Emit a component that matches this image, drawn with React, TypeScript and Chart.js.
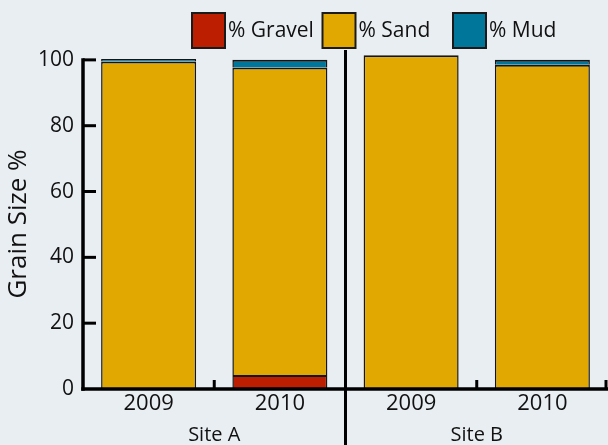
import React, { useEffect, useRef } from "react";
import { Chart, registerables } from "chart.js";
Chart.register(...registerables);

const categories = ["2009", "2010", "2009", "2010"];
const sites = ["Site A", "Site B"];
const gravel = [0.2, 4.25, 0.2, 0.1];
const sand = [99.3, 93.4, 101.2, 98.4];
const mud = [0.8, 2.35, 0, 1.5];
const seriesNames = ["% Gravel", "% Sand", "% Mud"];
const seriesColors = ["#bb1e00", "#e0a800", "#00769a"];
const yTicks = [0, 20, 40, 60, 80, 100];
const yTitle = "Grain Size %";

const FONT = '"Open Sans", "Noto Sans", sans-serif';
const BG = "#e9eef2";
const INK = "#111111";

const decor = {
  id: "decor",
  beforeDraw(chart: any) {
    const { ctx } = chart;
    ctx.save();
    ctx.fillStyle = BG;
    ctx.fillRect(0, 0, chart.width, chart.height);
    ctx.restore();
  },
  afterDatasetsDraw(chart: any) {
    const { ctx, chartArea } = chart;
    const xs = chart.scales.x;
    const ys = chart.scales.y;
    const y0 = ys.getPixelForValue(0);
    const yTop = ys.getPixelForValue(100);
    const n = categories.length;
    const perSite = n / sites.length;
    const step = (xs.right - xs.left) / n;
    const boundary = (i: number) => xs.getPixelForValue(i) + step / 2;

    ctx.save();
    ctx.strokeStyle = "#000";
    ctx.lineCap = "butt";

    // y axis line
    ctx.lineWidth = 3.5;
    ctx.beginPath();
    ctx.moveTo(xs.left, yTop - 1.5);
    ctx.lineTo(xs.left, y0 + 1.75);
    ctx.stroke();

    // y ticks (inward)
    ctx.lineWidth = 3;
    yTicks.forEach((v) => {
      if (v <= 0) return;
      const py = ys.getPixelForValue(v);
      ctx.beginPath();
      ctx.moveTo(xs.left, py);
      ctx.lineTo(xs.left + 13, py);
      ctx.stroke();
    });

    // x axis line
    ctx.lineWidth = 3.5;
    ctx.beginPath();
    ctx.moveTo(xs.left - 1.75, y0);
    ctx.lineTo(chartArea.right, y0);
    ctx.stroke();

    // x ticks within sites and at the right end
    ctx.lineWidth = 3;
    for (let i = 0; i < n; i++) {
      const isSiteEnd = (i + 1) % perSite === 0;
      let bx = boundary(i);
      if (isSiteEnd && i < n - 1) continue;
      if (i === n - 1) bx = Math.min(bx, chart.width) - 2;
      ctx.beginPath();
      ctx.moveTo(bx, y0);
      ctx.lineTo(bx, y0 - 9);
      ctx.stroke();
    }

    // site separators
    for (let s = 1; s < sites.length; s++) {
      const bx = boundary(s * perSite - 1);
      ctx.beginPath();
      ctx.moveTo(bx, chartArea.top);
      ctx.lineTo(bx, chart.height);
      ctx.stroke();
    }

    // site labels
    ctx.fillStyle = INK;
    ctx.font = `20px ${FONT}`;
    ctx.textAlign = "center";
    ctx.textBaseline = "middle";
    sites.forEach((name, s) => {
      const first = xs.getPixelForValue(s * perSite);
      const last = xs.getPixelForValue(s * perSite + perSite - 1);
      ctx.fillText(name, (first + last) / 2, 435);
    });

    // y title
    ctx.save();
    ctx.translate(19, 224);
    ctx.rotate(-Math.PI / 2);
    ctx.font = `26px ${FONT}`;
    ctx.fillText(yTitle, 0, 0);
    ctx.restore();

    // legend
    ctx.textAlign = "left";
    ctx.font = `21px ${FONT}`;
    seriesNames.forEach((name, i) => {
      const lx = 192 + i * 130.5;
      ctx.fillStyle = seriesColors[i];
      ctx.fillRect(lx, 13, 33, 35);
      ctx.lineWidth = 2;
      ctx.strokeStyle = "#1a1a1a";
      ctx.strokeRect(lx, 13, 33, 35);
      ctx.fillStyle = INK;
      ctx.fillText(name, lx + 36, 31);
    });

    ctx.restore();
  },
};

export default function App() {
  const ref = useRef<HTMLCanvasElement | null>(null);
  useEffect(() => {
    if (!ref.current) return;
    const series = [gravel, sand, mud];
    const chart = new Chart(ref.current, {
      type: "bar",
      data: {
        labels: categories,
        datasets: series.map((d, i) => ({
          label: seriesNames[i],
          data: d,
          backgroundColor: seriesColors[i],
          borderColor: "#151515",
          borderWidth: { top: 2, left: 1.5, right: 1.5, bottom: 0 },
          borderSkipped: false,
          barPercentage: 0.724,
          categoryPercentage: 1,
        })),
      },
      options: {
        animation: false,
        responsive: false,
        maintainAspectRatio: false,
        layout: { padding: { top: 50, left: 0, right: 0, bottom: 0 } },
        plugins: { legend: { display: false }, tooltip: { enabled: false } },
        scales: {
          x: {
            stacked: true,
            grid: { display: false, drawTicks: false },
            border: { display: false },
            ticks: { font: { family: FONT, size: 22 }, color: INK, padding: 2, maxRotation: 0 },
            afterFit(s: any) {
              s.height = 56;
            },
          },
          y: {
            stacked: true,
            min: 0,
            max: 103,
            grid: { display: false, drawTicks: false },
            border: { display: false },
            afterBuildTicks(s: any) {
              s.ticks = yTicks.map((v) => ({ value: v }));
            },
            ticks: { font: { family: FONT, size: 21 }, color: INK, padding: 9 },
            afterFit(s: any) {
              s.width = 83;
            },
          },
        },
      },
      plugins: [decor],
    } as any);
    return () => chart.destroy();
  }, []);
  return (
    <div style={{ position: "fixed", left: 0, top: 0, width: 608, height: 445, background: BG }}>
      <canvas ref={ref} width={608} height={445} style={{ display: "block", width: 608, height: 445 }} />
    </div>
  );
}
